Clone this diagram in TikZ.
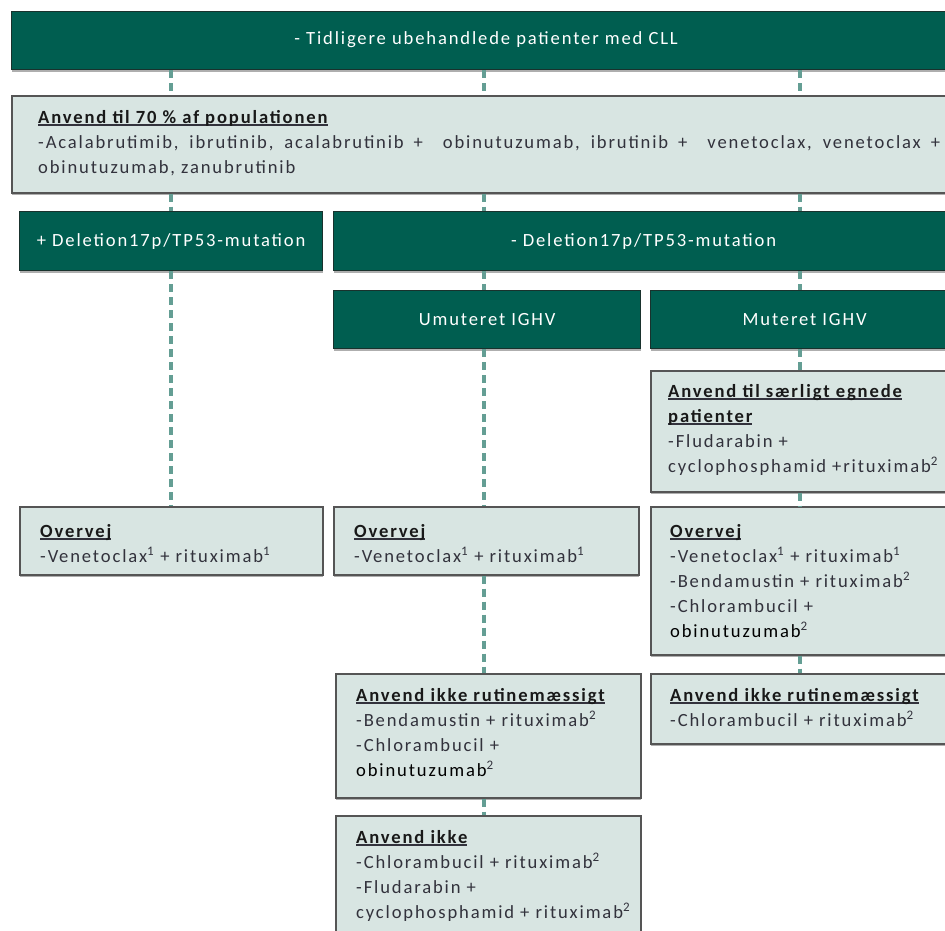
\documentclass[tikz,border=0pt]{standalone}
\usepackage{fontspec}
\setmainfont{Carlito}[LetterSpace=10]
\usetikzlibrary{shadows,calc}
\definecolor{dgreen}{RGB}{0,94,80}
\definecolor{dgreenedge}{RGB}{25,50,45}
\definecolor{lfill}{RGB}{216,229,226}
\definecolor{ledge}{RGB}{85,85,85}
\definecolor{dashc}{RGB}{100,158,148}
\definecolor{txtc}{RGB}{50,50,60}
\newcommand\hul[1]{\leavevmode\setbox0\hbox{#1}\rlap{\rule[-2.4pt]{\wd0}{1.3pt}}\box0}
\newcommand\tstrut{\rule{0pt}{14pt}}
\newcommand\hd[1]{\hul{\textbf{\color{black!90}#1}}}
\tikzset{
  every node/.style={font=\fontsize{18.6}{25}\selectfont},
  shadowed/.style={drop shadow={shadow xshift=0.6pt, shadow yshift=-2.2pt, fill=black!70, opacity=0.45}},
  gbox/.style={shadowed, draw=dgreenedge, line width=1.2pt, fill=dgreen, text=white, anchor=north west, inner sep=0pt},
  lbox/.style={shadowed, draw=ledge, line width=1.6pt, fill=lfill, anchor=north west, inner sep=0pt},
  ltext/.style={anchor=north west, inner sep=0pt, align=left, text=txtc},
  conn/.style={draw=dashc, line width=3.2pt, dash pattern=on 8pt off 5pt},
}
\begin{document}
\begin{tikzpicture}[x=1pt,y=-1pt]
\clip (0,0) rectangle (945,930);
\fill[white] (0,0) rectangle (945,930);
\coordinate (xa) at (171,0);
\coordinate (xb) at (484,0);
\coordinate (xc) at (800,0);
% boxes
\node[gbox, minimum width=949pt, minimum height=58pt] (top) at (11,11) {\raisebox{5pt}{- Tidligere ubehandlede patienter med CLL}};
\node[lbox, minimum width=945pt, minimum height=97pt] (anv) at (11,95) {};
\node[ltext, text width=902pt, align=justify] (anvt) at (38,109)
  {\tstrut\hd{Anvend til 70 \% af populationen}\\
   -Acalabrutimib, ibrutinib, acalabrutinib +\ \ obinutuzumab, ibrutinib +\ \ venetoclax, venetoclax +\linebreak
   obinutuzumab, zanubrutinib};
\node[gbox, minimum width=303pt, minimum height=59pt] (plus) at (19,211) {+ Deletion17p/TP53-mutation};
\node[gbox, minimum width=620pt, minimum height=59pt] (minus) at (333,211) {- Deletion17p/TP53-mutation};
\node[gbox, minimum width=307pt, minimum height=58pt] (umut) at (333,290) {Umuteret IGHV};
\node[gbox, minimum width=308pt, minimum height=58pt] (mut) at (650,290) {Muteret IGHV};
\node[lbox, minimum width=308pt, minimum height=121pt] (saer) at (650,370) {};
\node[ltext] (saert) at (668,383)
  {\tstrut\hd{Anvend til særligt egnede}\\
   \hd{patienter}\\
   -Fludarabin +\\
   cyclophosphamid +rituximab\textsuperscript{2}};
\node[lbox, minimum width=303pt, minimum height=68pt] (ov1) at (19,506) {};
\node[ltext] (ov1t) at (40,523)
  {\tstrut\hd{Overvej}\\
   -Venetoclax\textsuperscript{1} + rituximab\textsuperscript{1}};
\node[lbox, minimum width=305pt, minimum height=68pt] (ov2) at (333,506) {};
\node[ltext] (ov2t) at (354,523)
  {\tstrut\hd{Overvej}\\
   -Venetoclax\textsuperscript{1} + rituximab\textsuperscript{1}};
\node[lbox, minimum width=308pt, minimum height=148pt] (ov3) at (650,506) {};
\node[ltext] (ov3t) at (670,523)
  {\tstrut\hd{Overvej}\\
   -Venetoclax\textsuperscript{1} + rituximab\textsuperscript{1}\\
   -Bendamustin + rituximab\textsuperscript{2}\\
   -Chlorambucil +\\
   {\color{black}obinutuzumab}\textsuperscript{2}};
\node[lbox, minimum width=305pt, minimum height=124pt] (air2) at (335,673) {};
\node[ltext] (air2t) at (356,687)
  {\tstrut\hd{Anvend ikke rutinemæssigt}\\
   -Bendamustin + rituximab\textsuperscript{2}\\
   -Chlorambucil +\\
   {\color{black}obinutuzumab}\textsuperscript{2}};
\node[lbox, minimum width=308pt, minimum height=70pt] (air3) at (650,673) {};
\node[ltext] (air3t) at (670,687)
  {\tstrut\hd{Anvend ikke rutinemæssigt}\\
   -Chlorambucil + rituximab\textsuperscript{2}};
\node[lbox, minimum width=305pt, minimum height=130pt] (ai) at (335,815) {};
\node[ltext] (ait) at (356,829)
  {\tstrut\hd{Anvend ikke}\\
   -Chlorambucil + rituximab\textsuperscript{2}\\
   -Fludarabin +\\
   cyclophosphamid + rituximab\textsuperscript{2}};
% connectors
\draw[conn] (top.south -| xa) -- (anv.north -| xa);
\draw[conn] (top.south -| xb) -- (anv.north -| xb);
\draw[conn] (top.south -| xc) -- (anv.north -| xc);
\draw[conn] (anv.south -| xa) -- (plus.north -| xa);
\draw[conn] (anv.south -| xb) -- (minus.north -| xb);
\draw[conn] (anv.south -| xc) -- (minus.north -| xc);
\draw[conn] (plus.south -| xa) -- (ov1.north -| xa);
\draw[conn] (minus.south -| xb) -- (umut.north -| xb);
\draw[conn] (minus.south -| xc) -- (mut.north -| xc);
\draw[conn] (umut.south -| xb) -- (ov2.north -| xb);
\draw[conn] (mut.south -| xc) -- (saer.north -| xc);
\draw[conn] (saer.south -| xc) -- (ov3.north -| xc);
\draw[conn] (ov2.south -| xb) -- (air2.north -| xb);
\draw[conn] (ov3.south -| xc) -- (air3.north -| xc);
\draw[conn] (air2.south -| xb) -- (ai.north -| xb);
\end{tikzpicture}
\end{document}
